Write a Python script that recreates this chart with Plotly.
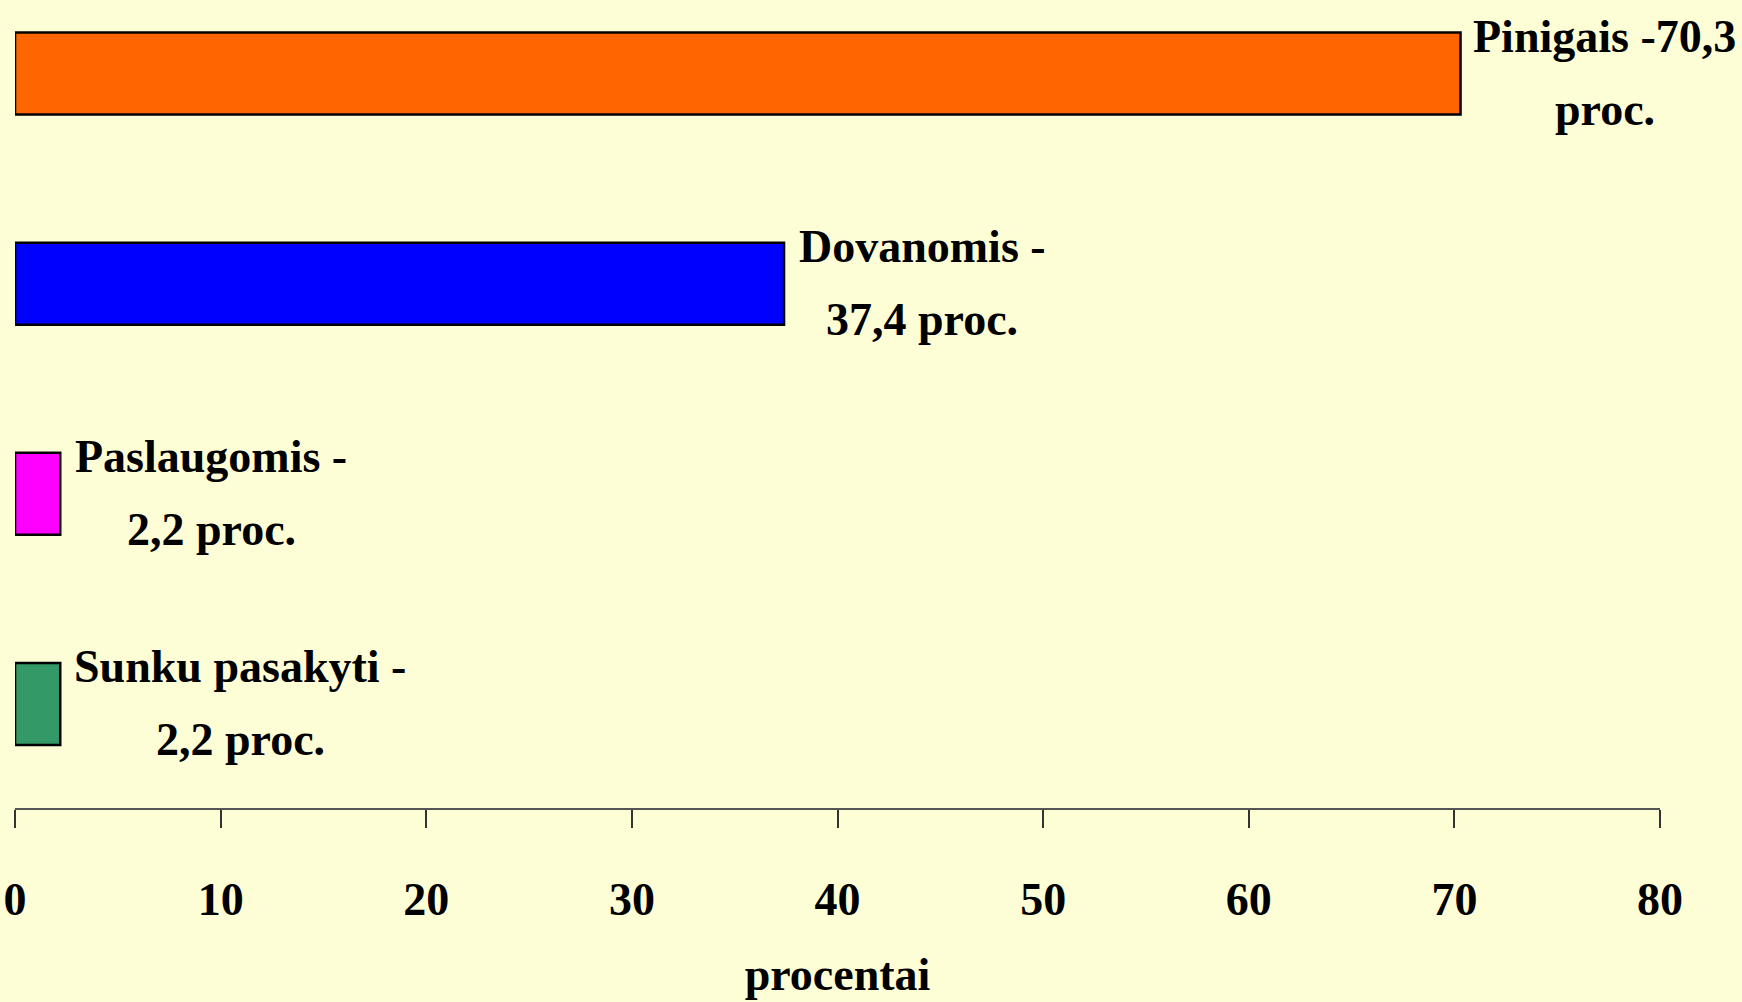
import plotly.graph_objects as go

categories = ["Pinigais", "Dovanomis", "Paslaugomis", "Sunku pasakyti"]
values = [70.3, 37.4, 2.2, 2.2]
label_line1 = ["Pinigais -70,3", "Dovanomis -", "Paslaugomis -", "Sunku pasakyti -"]
label_line2 = ["proc.", "37,4 proc.", "2,2 proc.", "2,2 proc."]
x_ticks = [0, 10, 20, 30, 40, 50, 60, 70, 80]
x_title = "procentai"

colors = ["#FF6600", "#0000FF", "#FF00FF", "#339966"]
label_center_shift = [144, 138, 151, 180]
BG = "#FEFED6"
FONT = "Liberation Serif, Times New Roman, serif"
FS = 46

fig = go.Figure()
fig.add_trace(go.Bar(
    x=values, y=categories, orientation="h",
    marker=dict(color=colors, line=dict(color="black", width=2.5)),
    width=0.39, hoverinfo="skip",
))

for cat, v, l1, l2, sh in zip(categories, values, label_line1, label_line2, label_center_shift):
    fig.add_annotation(x=v, y=cat, xref="x", yref="y", text="<b>%s</b>" % l1,
                       showarrow=False, xanchor="center", yanchor="middle",
                       xshift=sh, yshift=37, font=dict(family=FONT, size=FS, color="black"))
    fig.add_annotation(x=v, y=cat, xref="x", yref="y", text="<b>%s</b>" % l2,
                       showarrow=False, xanchor="center", yanchor="middle",
                       xshift=sh, yshift=-36, font=dict(family=FONT, size=FS, color="black"))

fig.update_layout(
    width=1742, height=1002,
    paper_bgcolor=BG, plot_bgcolor=BG,
    margin=dict(l=15, r=82, t=0, b=194),
    showlegend=False,
    font=dict(family=FONT, size=FS, color="black"),
    xaxis=dict(
        range=[0, 80], tickvals=x_ticks, ticktext=["<b>%d</b>" % t for t in x_ticks],
        showgrid=False, zeroline=False, showline=True, linecolor="#555555", linewidth=1.5,
        ticks="outside", ticklen=18, tickwidth=1.5, tickcolor="#333333",
        tickfont=dict(family=FONT, size=FS, color="black"),
        ticklabelstandoff=32,
        title=dict(text="<b>%s</b>" % x_title, font=dict(family=FONT, size=FS, color="black"), standoff=34),
    ),
    yaxis=dict(
        type="category", categoryorder="array", categoryarray=categories[::-1],
        range=[-0.495, 3.35], showticklabels=False, showgrid=False, zeroline=False,
        showline=False, ticks="",
    ),
)

fig.write_html("out.html", config={"displayModeBar": False},
               post_script="document.body.style.margin='0';document.body.style.background='%s';" % BG)
